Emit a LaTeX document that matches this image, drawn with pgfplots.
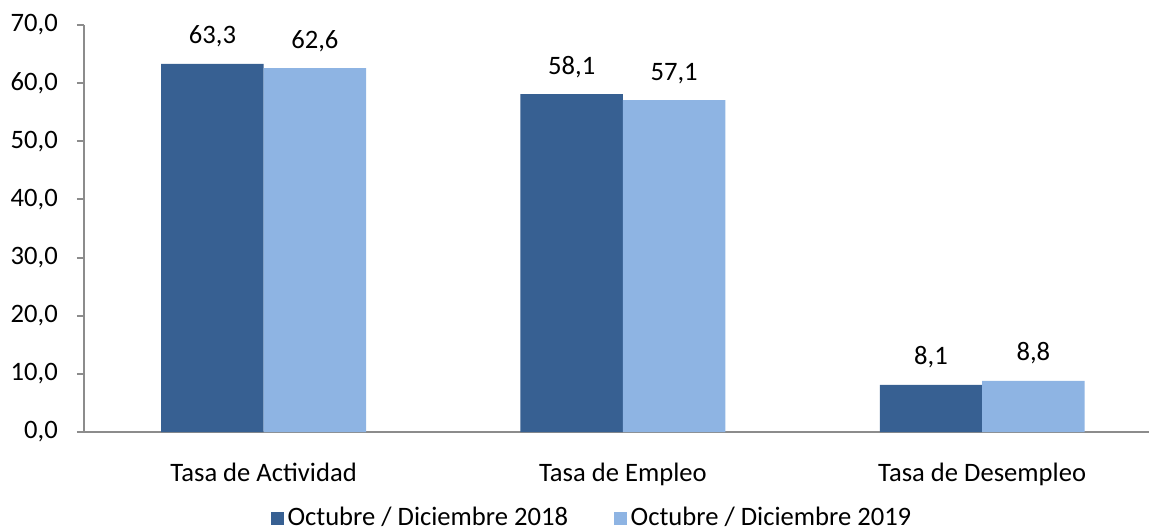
\documentclass[border=0pt]{standalone}
\usepackage{pgfplots}
\pgfplotsset{compat=1.18}
\usepackage{fontspec}
\setmainfont{Carlito}
\definecolor{cDark}{HTML}{376092}
\definecolor{cLight}{HTML}{8EB4E3}
\definecolor{cAxis}{HTML}{8C8C8C}
\newcommand{\lblfont}{\fontsize{13.3pt}{15pt}\selectfont}

\begin{document}
\lblfont
\begin{tikzpicture}[x=1pt,y=1pt]
\begin{axis}[name=ax,scale only axis,width=532.5pt,height=203.5pt,
    xmin=-0.5,xmax=2.4645,ymin=0,ymax=70,
    axis lines=left,axis line style={cAxis,line width=1pt,-},
    ybar,bar width=0.285,
    xtick={0,1,2},xticklabels={Tasa de Actividad,Tasa de Empleo,Tasa de Desempleo},
    xtick style={draw=none},
    xticklabel style={anchor=base,yshift=-21pt},
    ytick={0,10,...,70},
    ytick style={cAxis,line width=1pt},
    yticklabel style={xshift=-5pt},
    tick align=outside,major tick length=3.5pt,
    yticklabel={\pgfmathprintnumber[fixed,fixed zerofill,precision=1,use comma]{\tick}},
    /pgf/number format/assume math mode=true,
    tick label style={font=\lblfont},
    nodes near coords={\pgfmathprintnumber[fixed,fixed zerofill,precision=1,use comma,assume math mode=true]{\pgfplotspointmeta}},
    nodes near coords style={font=\lblfont,anchor=base,yshift=10pt,inner sep=0pt},
    legend columns=2,
    legend style={at={(0.478,-0.212)},anchor=center,draw=none,
        font=\lblfont,
        /tikz/every even column/.append style={column sep=21pt}},
    legend image code/.code={\fill[#1] (-2pt,-3.2pt) rectangle (4.3pt,3pt);},
    clip=false]
\addplot[fill=cDark,draw=none,bar shift=-0.1425] coordinates {(0,63.3) (1,58.1) (2,8.1)};
\addplot[fill=cLight,draw=none,bar shift=0.1425] coordinates {(0,62.6) (1,57.1) (2,8.8)};
\legend{Octubre / Diciembre 2018,Octubre / Diciembre 2019}
\end{axis}
\pgfresetboundingbox
\path[use as bounding box] ([shift={(-42pt,-49.5pt)}]ax.south west) rectangle ([shift={(532.5pt,216pt)}]ax.south west);
\end{tikzpicture}
\end{document}
